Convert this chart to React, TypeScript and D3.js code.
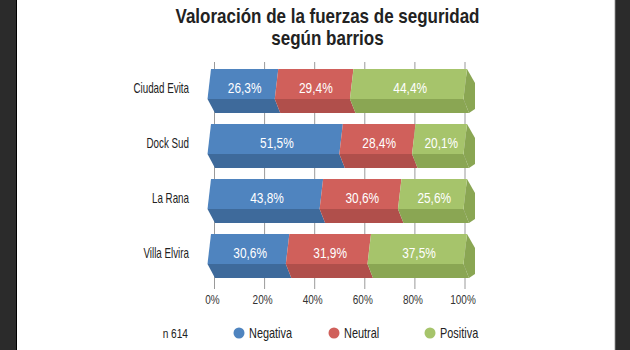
import React from "react";
import * as d3 from "d3";

const categories = ["Ciudad Evita", "Dock Sud", "La Rana", "Villa Elvira"];
const negativa = [26.3, 51.5, 43.8, 30.6];
const neutral = [29.4, 28.4, 30.6, 31.9];
const positiva = [44.4, 20.1, 25.6, 37.5];
const seriesNames = ["Negativa", "Neutral", "Positiva"];
const tickValues = [0, 20, 40, 60, 80, 100];
const titleLines = ["Valoración de la fuerzas de seguridad", "según barrios"];
const sampleNote = "n 614";

const W = 630;
const H = 350;
const FONT = "'Liberation Sans', Arial, sans-serif";
const frontColors = ["#4f84bf", "#d0605b", "#a6c46b"];
const darkColors = ["#3e6a9b", "#b04f4b", "#8aa653"];

function CText(props: {
  x: number;
  y: number;
  k: number;
  anchor?: string;
  size: number;
  fill: string;
  weight?: string;
  children: any;
}) {
  const { x, y, k, anchor, size, fill, weight, children } = props;
  return (
    <text
      transform={`translate(${x},${y}) scale(${k},1)`}
      textAnchor={anchor || "start"}
      fontSize={size}
      fill={fill}
      fontWeight={weight || "normal"}
    >
      {children}
    </text>
  );
}

export default function App() {
  const rows = categories.map((c, i) => ({
    cat: c,
    Negativa: negativa[i],
    Neutral: neutral[i],
    Positiva: positiva[i],
  }));
  const stack = d3.stack<any>().keys(seriesNames).offset(d3.stackOffsetExpand);
  const series = stack(rows);

  const xBar = d3.scaleLinear().domain([0, 1]).range([211, 467]);
  const xGrid = d3.scaleLinear().domain([0, 100]).range([214.5, 465]);
  const y = d3
    .scaleBand<string>()
    .domain(categories)
    .range([63.5, 283.5])
    .paddingInner(0.2)
    .paddingOuter(0.1);
  const band = y.bandwidth();
  const frontH = band * 0.68;

  const pts = (p: number[][]) => p.map((q) => q.join(",")).join(" ");

  return (
    <svg
      width={W}
      height={H}
      style={{ position: "absolute", left: 0, top: 0 }}
      fontFamily={FONT}
    >
      <rect x={0} y={0} width={W} height={H} fill="#2b2b2b" />
      <rect x={16} y={0} width={600} height={H} fill="#000" />
      <rect x={17} y={0} width={598} height={H} fill="#ffffff" />
      <rect x={614.5} y={0} width={1} height={H} fill="#aaa" />

      {titleLines.map((t, i) => (
        <CText key={i} x={327.5} y={23 + i * 22} k={0.85} anchor="middle" size={20} weight="bold" fill="#222">
          {t}
        </CText>
      ))}

      {tickValues.map((t) => (
        <g key={t}>
          <line x1={xGrid(t)} x2={xGrid(t)} y1={62} y2={289} stroke="#9a9a9a" strokeWidth={1} />
          <CText x={xGrid(t) - 2} y={304} k={0.8} anchor="middle" size={12.5} fill="#333">
            {t}%
          </CText>
        </g>
      ))}

      {categories.map((c, ci) => {
        const top = y(c)!;
        const mid = top + frontH;
        const bot = top + band;
        return (
          <g key={c}>
            <CText x={189} y={top + 24} k={0.7} anchor="end" size={14} fill="#222">
              {c}
            </CText>
            {series.map((s, si) => {
              const d = s[ci];
              const a = xBar(d[0]);
              const b = xBar(d[1]);
              const front = [
                [a, top],
                [b, top],
                [b - 3.5, mid],
                [a - 3.5, mid],
              ];
              const bottom = [
                [a - 3.5, mid],
                [b - 3.5, mid],
                [b + 2, bot],
                [a + (si === 0 ? 4 : 2), bot],
              ];
              const isLast = si === series.length - 1;
              const side = [
                [b, top],
                [b + 8, top + 14],
                [b + 8, bot - 4],
                [b + 2, bot],
                [b - 3.5, mid],
              ];
              return (
                <g key={s.key}>
                  <polygon points={pts(bottom)} fill={darkColors[si]} />
                  {isLast && <polygon points={pts(side)} fill={darkColors[si]} />}
                  <polygon points={pts(front)} fill={frontColors[si]} />
                  <CText x={(a + b) / 2} y={top + 24} k={0.82} anchor="middle" size={14.5} fill="#fff">
                    {(d.data[s.key] as number).toFixed(1).replace(".", ",")}%
                  </CText>
                </g>
              );
            })}
          </g>
        );
      })}

      <CText x={188} y={338} k={0.75} anchor="end" size={13.5} fill="#222">
        {sampleNote}
      </CText>
      {seriesNames.map((n, i) => {
        const cx = [239, 334, 430][i];
        return (
          <g key={n}>
            <circle cx={cx} cy={333} r={5.5} fill={frontColors[i]} />
            <CText x={cx + 10} y={338} k={0.78} size={14} fill="#222">
              {n}
            </CText>
          </g>
        );
      })}
    </svg>
  );
}
